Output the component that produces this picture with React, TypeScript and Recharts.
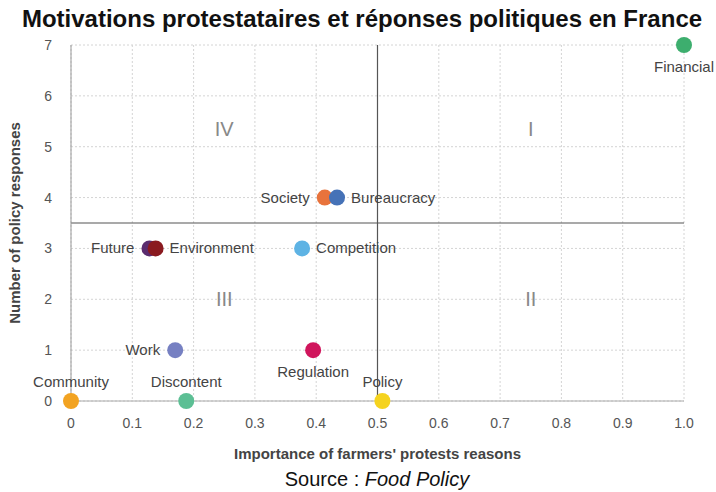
import React from 'react';
import {
  CartesianGrid,
  ReferenceLine,
  Scatter,
  ScatterChart,
  XAxis,
  YAxis,
  Label,
} from 'recharts';

// motivations: importance (x) vs number of policy responses (y)
const names = [
  'Financial',
  'Society',
  'Bureaucracy',
  'Future',
  'Environment',
  'Competition',
  'Work',
  'Regulation',
  'Community',
  'Discontent',
  'Policy',
];
const importance = [1.0, 0.414, 0.434, 0.128, 0.138, 0.377, 0.17, 0.395, 0, 0.188, 0.508];
const responses = [7, 4, 4, 3, 3, 3, 1, 1, 0, 0, 0];
const colors = [
  '#3dae6e',
  '#e8733c',
  '#4672b7',
  '#5a2c6e',
  '#8a1a20',
  '#5eb3e4',
  '#7680c2',
  '#d0155c',
  '#f2a322',
  '#5cbf94',
  '#f5d31f',
];
const labelSide = ['below', 'left', 'right', 'left', 'right', 'right', 'left', 'below', 'above', 'above', 'above'];

const quadrantNames = ['I', 'II', 'III', 'IV'];
const quadrantX = [0.75, 0.75, 0.25, 0.25];
const quadrantY = [5.35, 2.0, 2.0, 5.35];

const xTicks = [0, 0.1, 0.2, 0.3, 0.4, 0.5, 0.6, 0.7, 0.8, 0.9, 1.0];
const yTicks = [0, 1, 2, 3, 4, 5, 6, 7];

const points = names.map((name, i) => ({
  name,
  x: importance[i],
  y: responses[i],
  color: colors[i],
  side: labelSide[i],
}));

const quadrants = quadrantNames.map((name, i) => ({ name, x: quadrantX[i], y: quadrantY[i] }));

const FONT = '"Liberation Sans", Arial, sans-serif';

const PointShape = (props: any) => {
  const { cx, cy, payload } = props;
  let tx = cx;
  let ty = cy + 5;
  let anchor: 'start' | 'middle' | 'end' = 'middle';
  if (payload.side === 'left') {
    tx = cx - 15;
    anchor = 'end';
  } else if (payload.side === 'right') {
    tx = cx + 14;
    anchor = 'start';
  } else if (payload.side === 'below') {
    ty = cy + 27;
  } else if (payload.side === 'above') {
    ty = cy - 14;
  }
  return (
    <g>
      <circle cx={cx} cy={cy} r={8} fill={payload.color} />
      <text x={tx} y={ty} textAnchor={anchor} fontSize={15} fill="#444" fontFamily={FONT}>
        {payload.name}
      </text>
    </g>
  );
};

const QuadrantShape = (props: any) => {
  const { cx, cy, payload } = props;
  return (
    <text x={cx} y={cy + 7} textAnchor="middle" fontSize={20} fill="#888" fontFamily={FONT}>
      {payload.name}
    </text>
  );
};

export default function App() {
  return (
    <div style={{ position: 'absolute', left: 0, top: 0, width: 716, height: 492, background: '#fff', fontFamily: FONT }}>
      <div
        style={{
          position: 'absolute',
          top: 5,
          left: 4,
          width: 716,
          textAlign: 'center',
          fontSize: 24,
          fontWeight: 'bold',
          color: '#111',
        }}
      >
        Motivations protestataires et réponses politiques en France
      </div>
      <ScatterChart width={716} height={492} margin={{ top: 45, right: 32, bottom: 61, left: 31 }}>
        <CartesianGrid stroke="#d4d4d4" strokeDasharray="2 2" />
        <XAxis
          type="number"
          dataKey="x"
          domain={[0, 1]}
          ticks={xTicks}
          tickFormatter={(v) => (v === 0 ? '0' : v.toFixed(1))}
          height={30}
          stroke="#aaa"
          tickLine={false}
          tick={{ fill: '#555', fontSize: 14, fontFamily: FONT }}
          tickMargin={11}
        >
          <Label
            value="Importance of farmers' protests reasons"
            position="insideBottom"
            offset={-28}
            style={{ fontSize: 15, fontWeight: 'bold', fill: '#444', fontFamily: FONT }}
          />
        </XAxis>
        <YAxis
          type="number"
          dataKey="y"
          domain={[0, 7]}
          ticks={yTicks}
          width={40}
          stroke="#999"
          tickLine={false}
          tick={{ fill: '#555', fontSize: 14, fontFamily: FONT }}
          tickMargin={13}
        >
          <Label
            value="Number of policy responses"
            angle={-90}
            position="insideLeft"
            offset={-16}
            style={{ textAnchor: 'middle', fontSize: 15, fontWeight: 'bold', fill: '#444', fontFamily: FONT }}
          />
        </YAxis>
        <ReferenceLine x={0.5} stroke="#555" strokeWidth={1.2} />
        <ReferenceLine y={3.5} stroke="#555" strokeWidth={1.2} />
        <Scatter data={quadrants} shape={QuadrantShape} isAnimationActive={false} />
        <Scatter data={points} shape={PointShape} isAnimationActive={false} />
      </ScatterChart>
      <div
        style={{
          position: 'absolute',
          top: 468,
          left: 19,
          width: 716,
          textAlign: 'center',
          fontSize: 20,
          color: '#111',
        }}
      >
        Source : <i>Food Policy</i>
      </div>
    </div>
  );
}
